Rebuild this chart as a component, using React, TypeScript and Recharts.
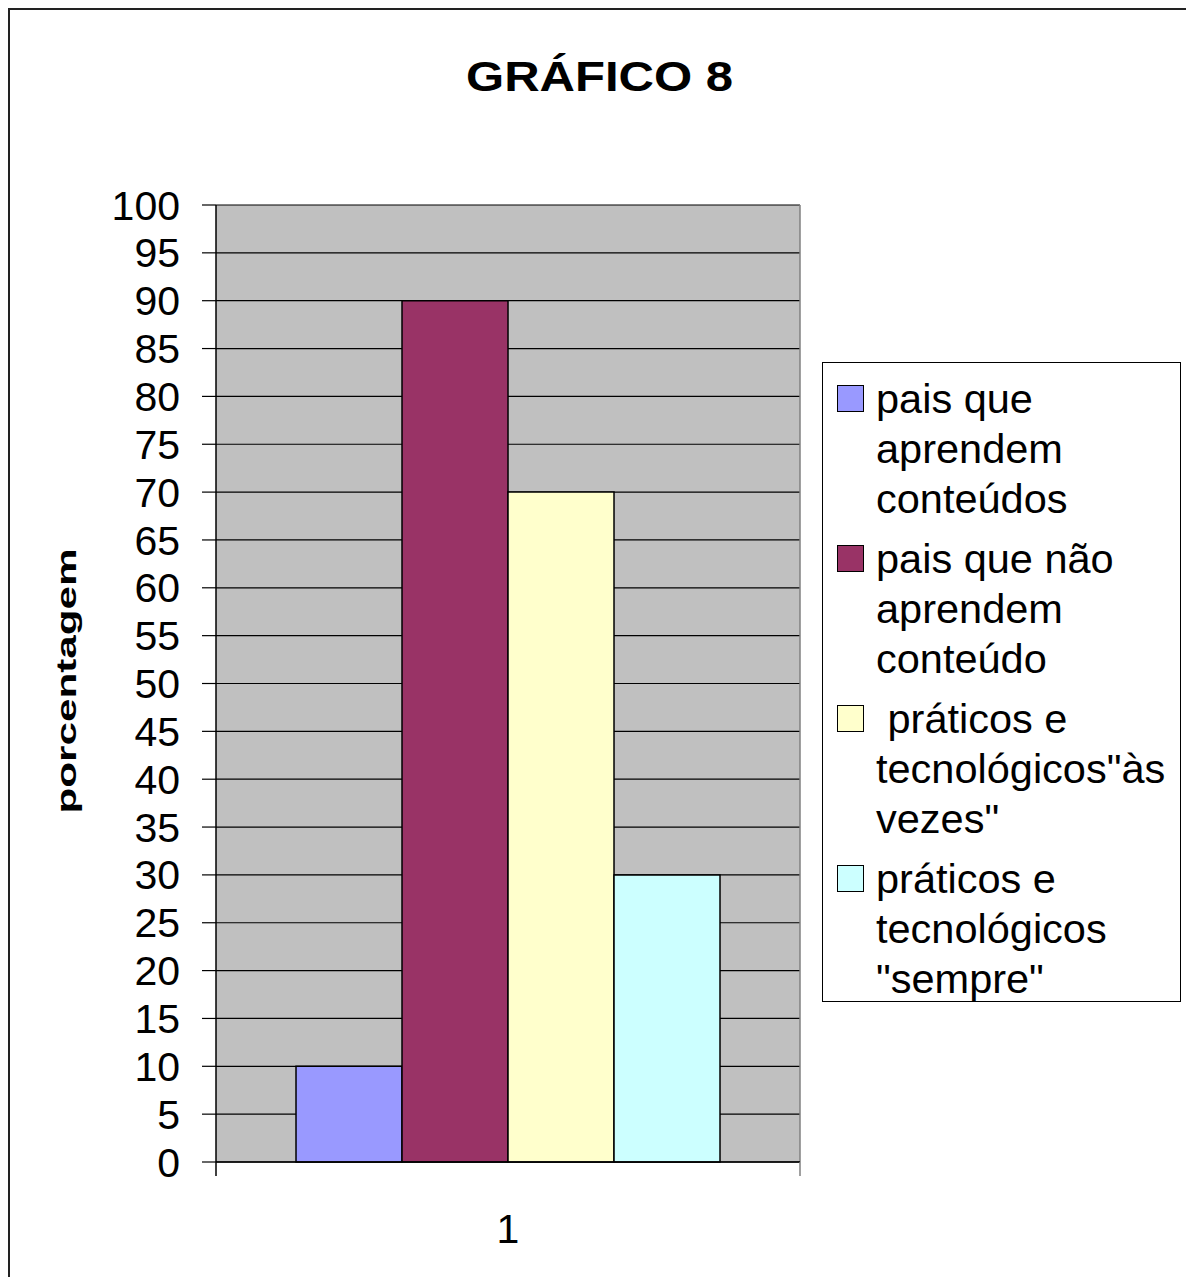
import { BarChart, Bar, XAxis, YAxis, CartesianGrid, Legend } from "recharts";

const categories = ["1"];
const seriesNames = [
  "pais que aprendem conteúdos",
  "pais que não aprendem conteúdo",
  " práticos e tecnológicos\"às vezes\"",
  "práticos e tecnológicos \"sempre\"",
];
const seriesValues = [10, 90, 70, 30];
const seriesColors = ["#9999FF", "#993366", "#FFFFCC", "#CCFFFF"];
const yTicks = [0, 5, 10, 15, 20, 25, 30, 35, 40, 45, 50, 55, 60, 65, 70, 75, 80, 85, 90, 95, 100];

const FONT = "Arial, 'Liberation Sans', sans-serif";

const data = categories.map((c) => {
  const row: Record<string, string | number> = { name: c };
  seriesValues.forEach((v, i) => (row[`s${i}`] = v));
  return row;
});

// x tick: category label plus boundary ticks at the band edges (Excel style)
function XTick(props: any) {
  const { x, y, payload } = props;
  const half = payload?.offset ?? 0;
  const axisY = y - 14;
  return (
    <g>
      <line x1={x - half} x2={x - half} y1={axisY} y2={axisY + 14} stroke="#000" strokeWidth={1.5} />
      <line x1={x + half} x2={x + half} y1={axisY} y2={axisY + 14} stroke="#808080" strokeWidth={1.5} />
      <text x={x} y={y + 67} textAnchor="middle" fontSize={41} fontFamily={FONT} fill="#000">
        {payload.value}
      </text>
    </g>
  );
}

function LegendBox({ payload }: any) {
  // keep the series order (recharts sorts legend items by name otherwise)
  const items = [...(payload || [])].sort(
    (a: any, b: any) => seriesNames.indexOf(a.value) - seriesNames.indexOf(b.value)
  );
  return (
    <div
      style={{
        boxSizing: "border-box",
        width: 359,
        height: 640,
        border: "1px solid #000",
        background: "#fff",
        padding: "11px 0 0 0",
        fontFamily: FONT,
      }}
    >
      {items.map((p: any, i: number) => (
        <div key={i} style={{ display: "flex", alignItems: "flex-start", marginBottom: 10 }}>
          <div
            style={{
              boxSizing: "border-box",
              width: 27,
              height: 27,
              marginLeft: 14,
              marginTop: 11,
              background: p.color,
              border: "1.5px solid #000",
              flexShrink: 0,
            }}
          />
          <div
            style={{
              marginLeft: 12,
              width: 306,
              fontSize: 41.5,
              lineHeight: "50px",
              color: "#000",
              whiteSpace: "pre-wrap",
            }}
          >
            {p.value}
          </div>
        </div>
      ))}
    </div>
  );
}

export default function App() {
  return (
    <div
      style={{
        position: "fixed",
        left: 8,
        top: 8,
        boxSizing: "border-box",
        width: 1178,
        height: 1269,
        overflow: "hidden",
        borderTop: "2px solid #222",
        borderLeft: "2px solid #222",
        background: "#fff",
      }}
    >
      <BarChart
        width={1176}
        height={1267}
        data={data}
        margin={{ top: 195, right: 386, bottom: 15, left: 86 }}
        barGap={0}
        barCategoryGap="13.7%"
      >
        <CartesianGrid horizontal vertical={false} stroke="#000" strokeWidth={1.2} fill="#C0C0C0" />
        <CartesianGrid
          horizontal={false}
          vertical
          stroke="#808080"
          strokeWidth={1.5}
          verticalCoordinatesGenerator={({ offset }: any) => [offset.left + offset.width]}
        />
        <XAxis
          dataKey="name"
          height={100}
          axisLine={{ stroke: "#000", strokeWidth: 1.5 }}
          tickLine={{ stroke: "none" }}
          tickSize={14}
          tickMargin={0}
          tick={<XTick />}
        />
        <YAxis
          width={120}
          domain={[0, 100]}
          ticks={yTicks}
          interval={0}
          axisLine={{ stroke: "#000", strokeWidth: 1.5 }}
          tickLine={{ stroke: "#000", strokeWidth: 1.2 }}
          tickSize={14}
          tickMargin={22}
          tick={{ fontSize: 41, fontFamily: FONT, fill: "#000" }}
        />
        <Legend
          layout="vertical"
          align="center"
          verticalAlign="middle"
          content={<LegendBox />}
          wrapperStyle={{ left: 812, top: 352, width: 359, height: 640 }}
        />
        {seriesNames.map((n, i) => (
          <Bar
            key={n}
            dataKey={`s${i}`}
            name={n}
            fill={seriesColors[i]}
            stroke="#000"
            strokeWidth={1.5}
            isAnimationActive={false}
          />
        ))}
      </BarChart>
      <svg
        width={1176}
        height={1267}
        style={{ position: "absolute", left: 0, top: 0, pointerEvents: "none" }}
      >
        <text
          x={456}
          y={81}
          fontSize={42}
          fontWeight="bold"
          fontFamily={FONT}
          textLength={267}
          lengthAdjust="spacingAndGlyphs"
          fill="#000"
        >
          GRÁFICO 8
        </text>
        <text
          transform="translate(66,671) rotate(-90)"
          x={0}
          y={0}
          textAnchor="middle"
          fontSize={28}
          fontWeight="bold"
          fontFamily={FONT}
          textLength={265}
          lengthAdjust="spacingAndGlyphs"
          fill="#000"
        >
          porcentagem
        </text>
      </svg>
    </div>
  );
}
